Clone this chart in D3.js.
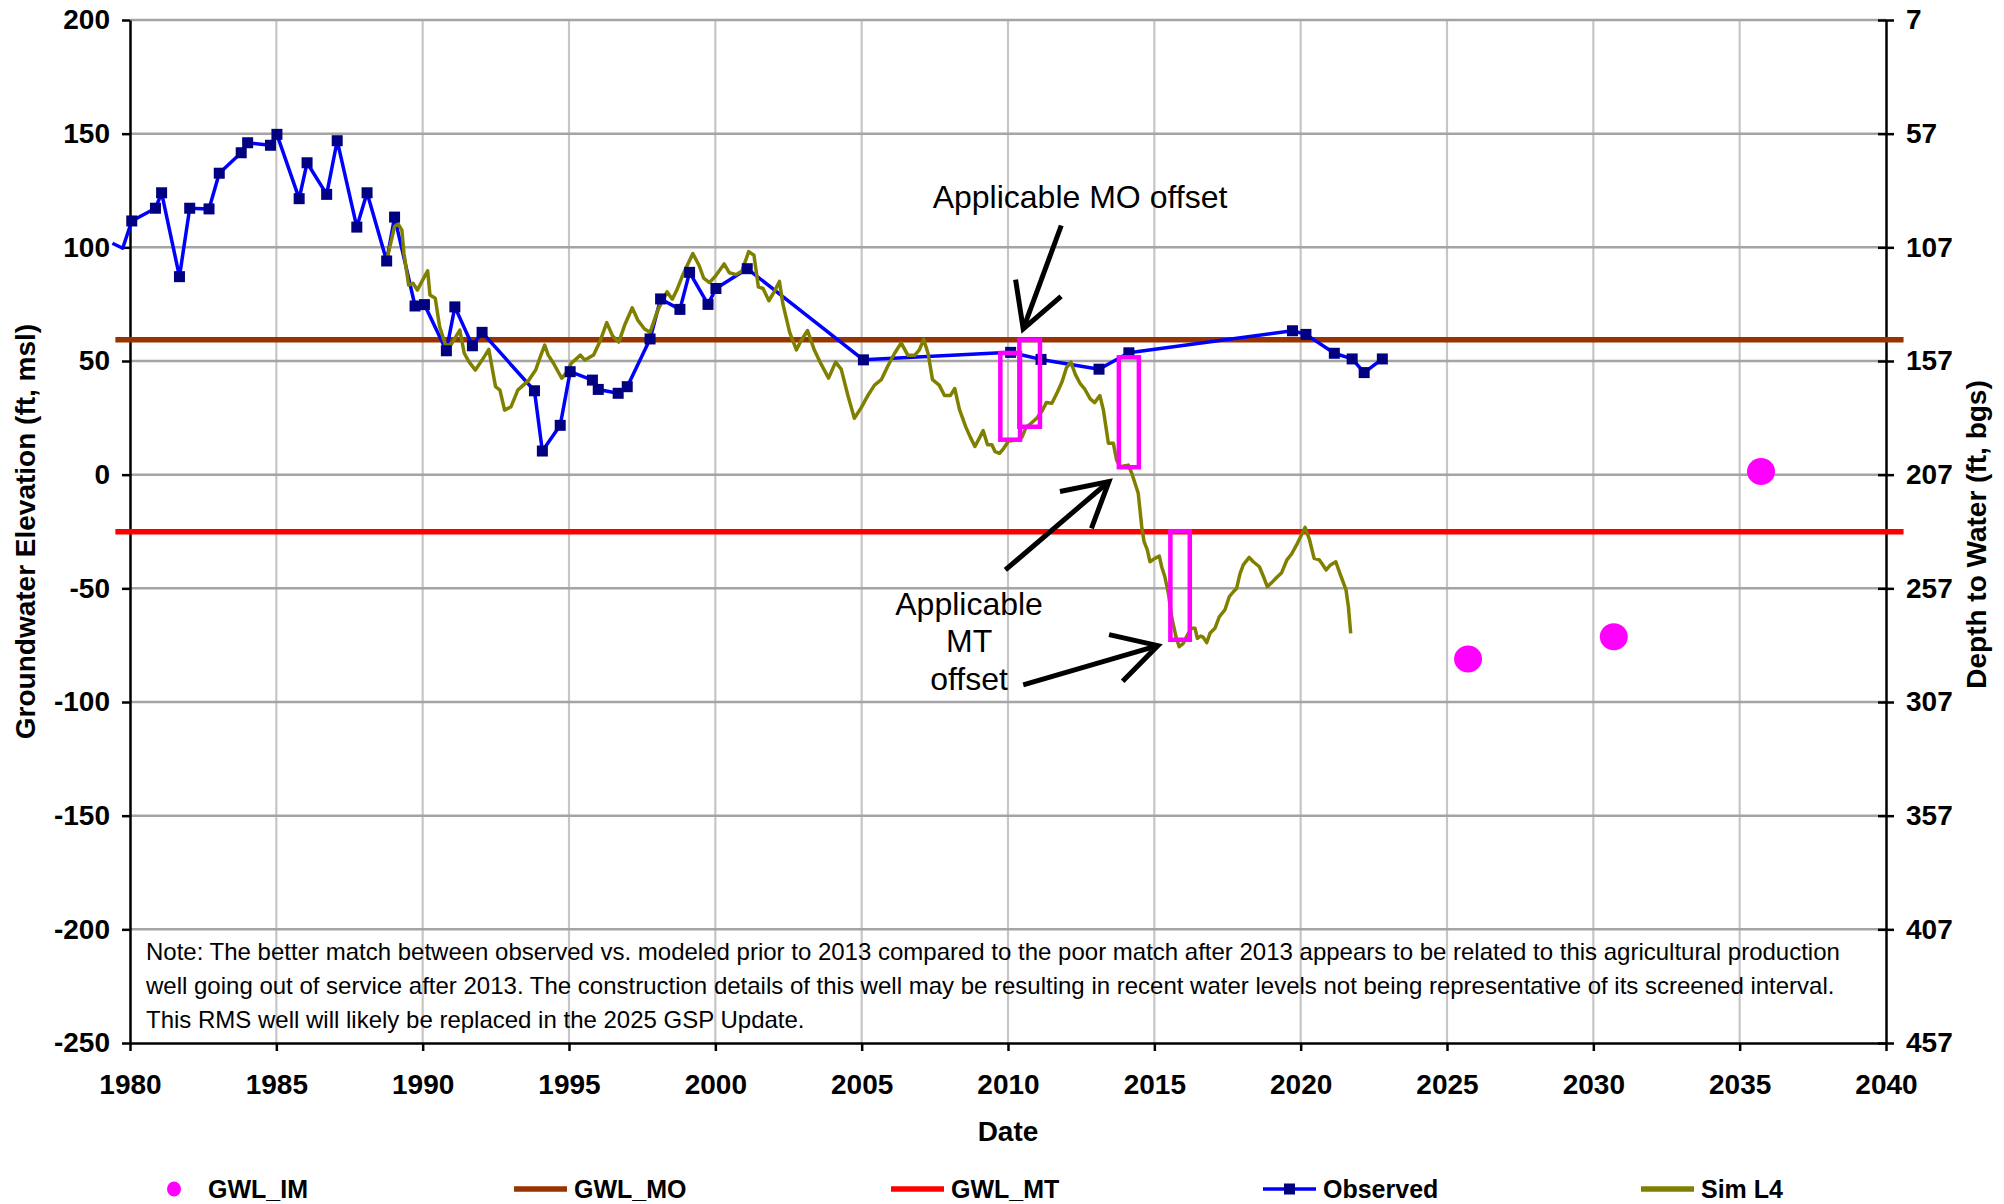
<!doctype html>
<html>
<head>
  <meta charset="utf-8">
  <title>Groundwater Elevation</title>
  <style>
    body {
      margin: 0;
      background: #fff;
    }
    svg text {
      font-family: Arial, "Liberation Sans", sans-serif;
    }
    .axis text {
      font-size: 28px;
      font-weight: bold;
      fill: #000;
    }
    .axis path, .axis line {
      stroke: #000;
      stroke-width: 2.5;
    }
  </style>
</head>
<body>
  <div id="vis"></div>

  <script src="https://d3js.org/d3.v7.min.js"></script>
  <script>

    // observed groundwater elevation (ft, msl)
    var obsYears = [1979.4, 1979.75, 1980.06, 1980.87, 1981.08, 1981.69, 1982.04, 1982.70, 1983.05, 1983.80,
      1984.02, 1984.80, 1985.02, 1985.78, 1986.05, 1986.72, 1987.08, 1987.75, 1988.10, 1988.77,
      1989.04, 1989.74, 1990.06, 1990.81, 1991.10, 1991.70, 1992.03, 1993.82, 1994.09, 1994.70,
      1995.04, 1995.80, 1996.00, 1996.68, 1996.99, 1997.77, 1998.13, 1998.79, 1999.12, 1999.75,
      2000.02, 2001.09, 2005.06, 2010.09, 2011.13, 2013.11, 2014.13, 2019.72, 2020.18, 2021.15,
      2021.76, 2022.17, 2022.79];
    var obsValues = [101.8, 99.6, 111.6, 117.2, 124.0, 87.1, 117.2, 116.9, 132.6, 141.6,
      146.0, 144.9, 149.7, 121.4, 137.2, 123.3, 146.9, 108.9, 124.0, 94.0,
      113.3, 74.2, 74.8, 54.5, 73.8, 56.7, 62.6, 36.9, 10.4, 21.7,
      45.3, 41.6, 37.5, 35.8, 38.7, 59.7, 77.3, 72.7, 89.0, 74.9,
      81.9, 90.6, 50.5, 53.8, 50.7, 46.4, 53.6, 63.3, 61.7, 53.4,
      50.9, 44.9, 50.9];

    // simulated (Sim L4)
    var simYears = [1988.80, 1989.04, 1989.16, 1989.29, 1989.36, 1989.52, 1989.67, 1989.82, 1989.97, 1990.17,
      1990.25, 1990.43, 1990.58, 1990.78, 1990.96, 1991.27, 1991.42, 1991.58, 1991.80, 1992.03,
      1992.26, 1992.49, 1992.64, 1992.80, 1993.02, 1993.25, 1993.63, 1993.86, 1994.02, 1994.17,
      1994.29, 1994.47, 1994.75, 1994.90, 1995.08, 1995.39, 1995.54, 1995.84, 1996.06, 1996.29,
      1996.49, 1996.70, 1996.90, 1997.16, 1997.35, 1997.58, 1997.77, 1998.04, 1998.35, 1998.53,
      1998.68, 1998.88, 1999.23, 1999.45, 1999.60, 1999.80, 2000.00, 2000.30, 2000.48, 2000.71,
      2000.91, 2001.14, 2001.32, 2001.47, 2001.63, 2001.83, 2002.01, 2002.19, 2002.31, 2002.54,
      2002.77, 2002.92, 2003.15, 2003.38, 2003.61, 2003.87, 2004.11, 2004.30, 2004.53, 2004.75,
      2004.98, 2005.21, 2005.44, 2005.67, 2005.90, 2006.12, 2006.35, 2006.58, 2006.81, 2006.97,
      2007.12, 2007.27, 2007.42, 2007.65, 2007.83, 2008.03, 2008.18, 2008.34, 2008.56, 2008.72,
      2008.87, 2009.03, 2009.15, 2009.30, 2009.45, 2009.56, 2009.71, 2009.86, 2010.02, 2010.25,
      2010.47, 2010.62, 2010.78, 2010.98, 2011.16, 2011.31, 2011.50, 2011.69, 2011.85, 2012.00,
      2012.15, 2012.30, 2012.46, 2012.61, 2012.81, 2012.96, 2013.14, 2013.26, 2013.43, 2013.60,
      2013.71, 2013.83, 2014.11, 2014.23, 2014.45, 2014.57, 2014.65, 2014.76, 2014.85, 2015.02,
      2015.17, 2015.25, 2015.36, 2015.48, 2015.59, 2015.74, 2015.85, 2015.99, 2016.13, 2016.27,
      2016.39, 2016.47, 2016.58, 2016.67, 2016.79, 2016.90, 2017.07, 2017.22, 2017.41, 2017.56,
      2017.70, 2017.81, 2017.93, 2018.04, 2018.24, 2018.38, 2018.59, 2018.73, 2018.86, 2019.01,
      2019.18, 2019.35, 2019.53, 2019.69, 2019.86, 2020.15, 2020.30, 2020.46, 2020.64, 2020.72,
      2020.87, 2021.02, 2021.20, 2021.34, 2021.55, 2021.63, 2021.71];
    var simValues = [95.9, 109.1, 110.3, 107.6, 97.4, 83.4, 84.2, 81.2, 84.9, 89.7,
      79.0, 77.6, 65.1, 57.0, 57.0, 63.6, 53.4, 49.7, 46.0, 50.4,
      55.1, 38.7, 37.2, 28.4, 29.9, 37.2, 41.6, 46.0, 51.9, 57.0,
      52.6, 49.0, 42.4, 44.6, 49.0, 52.6, 50.4, 52.6, 58.7, 66.9,
      61.0, 58.3, 65.7, 73.4, 68.0, 64.1, 62.6, 72.6, 80.4, 77.2,
      81.1, 87.6, 97.3, 91.9, 86.5, 84.5, 87.3, 92.7, 88.8, 88.0,
      89.6, 98.1, 96.5, 82.6, 81.9, 76.5, 80.4, 85.0, 75.0, 62.6,
      54.9, 58.7, 63.4, 54.9, 48.7, 42.5, 49.5, 46.4, 34.8, 24.8,
      29.4, 34.8, 39.4, 41.8, 47.9, 53.3, 58.0, 52.5, 52.5, 54.9,
      59.5, 53.3, 41.8, 39.4, 34.8, 34.8, 37.9, 28.7, 20.9, 16.3,
      12.4, 16.3, 19.4, 13.2, 13.2, 10.1, 9.4, 11.7, 14.8, 15.1,
      16.3, 20.9, 22.5, 24.8, 27.9, 31.7, 31.4, 36.4, 41.0, 47.1,
      49.5, 44.1, 40.2, 37.9, 33.3, 31.7, 34.8, 28.4, 13.8, 13.8,
      6.5, 3.5, 4.2, 0.6, -8.2, -22.9, -29.5, -33.1, -38.3, -36.8,
      -35.8, -40.5, -44.9, -52.2, -62.5, -71.3, -75.7, -74.2, -70.5, -67.6,
      -67.6, -72.0, -71.0, -71.5, -73.9, -69.8, -67.6, -62.5, -59.5, -53.7,
      -51.5, -50.0, -43.4, -39.7, -36.4, -38.3, -40.5, -44.9, -49.3, -47.5,
      -45.2, -43.1, -37.5, -34.9, -30.9, -23.2, -28.5, -36.8, -37.5, -39.0,
      -41.9, -39.7, -38.3, -43.4, -50.7, -58.0, -69.8];

    // interim milestones
    var imYears = [2025.72, 2030.70, 2035.73];
    var imValues = [-81.1, -71.3, 1.4];

    // measurable objective / minimum threshold
    var thresholdYears = [1979.5, 2040.6];
    var moValue = 59.4;
    var mtValue = -25.1;
    var surfaceElev = 207;

    // offset boxes: [year0, year1, top, bottom]
    var offsetBoxes = [
      [2009.67, 2010.48, 54.4, 14.5],
      [2010.32, 2011.16, 60.2, 20.2],
      [2013.72, 2014.54, 52.5, 2.4],
      [2015.48, 2016.28, -24.0, -73.5]
    ];

    // arrows: [tailYear, tailValue, tipYear, tipValue]
    var arrows = [
      [2011.82, 109.6, 2010.52, 64.1],
      [2009.91, -41.9, 2013.45, -3.0],
      [2010.52, -92.5, 2015.12, -75.2]
    ];

    var xTicks = d3.range(1980, 2041, 5);
    var yTicks = d3.range(-250, 201, 50);
    var depthTicks = d3.range(7, 458, 50);

    var noteLines = [
      "Note: The better match between observed vs. modeled prior to 2013 compared to the poor match after 2013 appears to be related to this agricultural production",
      "well going out of service after 2013. The construction details of this well may be resulting in recent water levels not being representative of its screened interval.",
      "This RMS well will likely be replaced in the 2025 GSP Update."
    ];

    var legendItems = ["GWL_IM", "GWL_MO", "GWL_MT", "Observed", "Sim L4"];

    var W = 2004, H = 1204;
    var pLeft = 130, pRight = 1886, pTop = 20, pBottom = 1043;

    var svg = d3.select("#vis").append("svg")
      .attr("width", W)
      .attr("height", H);

    var x = d3.scaleLinear().domain([1980, 2040]).range([pLeft, pRight]);
    var y = d3.scaleLinear().domain([-250, 200]).range([pBottom, pTop]);
    var yDepth = d3.scaleLinear().domain([surfaceElev + 250, surfaceElev - 200]).range([pBottom, pTop]);

    // gridlines
    svg.append("g").selectAll("line")
      .data(xTicks.slice(1, -1))
      .enter().append("line")
      .attr("x1", function(d){ return x(d); })
      .attr("x2", function(d){ return x(d); })
      .attr("y1", pTop)
      .attr("y2", pBottom)
      .attr("stroke", "#c6c6c6")
      .attr("stroke-width", 2.2);

    svg.append("g").selectAll("line")
      .data(yTicks.slice(1))
      .enter().append("line")
      .attr("x1", pLeft)
      .attr("x2", pRight)
      .attr("y1", function(d){ return y(d); })
      .attr("y2", function(d){ return y(d); })
      .attr("stroke", "#a4a4a4")
      .attr("stroke-width", 2.5);

    // axes (plain hyphen for negatives, like the original)
    svg.append("g")
      .attr("class", "axis")
      .attr("transform", "translate(" + pLeft + ",0)")
      .call(d3.axisLeft(y).tickValues(yTicks).tickFormat(function(d){ return String(d); })
        .tickSizeInner(8).tickSizeOuter(0).tickPadding(12));

    var rightAxis = svg.append("g")
      .attr("class", "axis")
      .attr("transform", "translate(" + pRight + ",0)")
      .call(d3.axisRight(yDepth).tickValues(depthTicks).tickFormat(function(d){ return String(d); })
        .tickSizeInner(8).tickSizeOuter(0).tickPadding(12));
    rightAxis.selectAll(".tick line").attr("x1", -8);

    svg.append("g")
      .attr("class", "axis")
      .attr("transform", "translate(0," + pBottom + ")")
      .call(d3.axisBottom(x).tickValues(xTicks).tickFormat(d3.format("d")).tickSizeInner(8).tickSizeOuter(0).tickPadding(23));

    // axis titles
    svg.append("text")
      .attr("transform", "translate(35," + ((pTop + pBottom) / 2) + ") rotate(-90)")
      .attr("text-anchor", "middle")
      .style("font-size", "28px")
      .style("font-weight", "bold")
      .text("Groundwater Elevation (ft, msl)");

    svg.append("text")
      .attr("transform", "translate(1986," + ((pTop + pBottom) / 2 + 3) + ") rotate(-90)")
      .attr("text-anchor", "middle")
      .style("font-size", "28px")
      .style("font-weight", "bold")
      .text("Depth to Water (ft, bgs)");

    svg.append("text")
      .attr("x", (pLeft + pRight) / 2)
      .attr("y", 1141)
      .attr("text-anchor", "middle")
      .style("font-size", "28px")
      .style("font-weight", "bold")
      .text("Date");

    // MO / MT lines
    var flat = d3.line()
      .x(function(d){ return x(d[0]); })
      .y(function(d){ return y(d[1]); });

    svg.append("path")
      .datum(thresholdYears.map(function(d){ return [d, moValue]; }))
      .attr("d", flat)
      .attr("stroke", "#993300")
      .attr("stroke-width", 5.5)
      .attr("fill", "none");

    svg.append("path")
      .datum(thresholdYears.map(function(d){ return [d, mtValue]; }))
      .attr("d", flat)
      .attr("stroke", "#ff0000")
      .attr("stroke-width", 5.5)
      .attr("fill", "none");

    // interim milestones
    svg.append("g").selectAll("ellipse")
      .data(imYears)
      .enter().append("ellipse")
      .attr("cx", function(d){ return x(d); })
      .attr("cy", function(d,i){ return y(imValues[i]); })
      .attr("rx", 14)
      .attr("ry", 13.5)
      .attr("fill", "#ff00ff");

    // observed
    var obs = obsYears.map(function(d,i){ return [d, obsValues[i]]; });

    svg.append("path")
      .datum(obs)
      .attr("d", flat)
      .attr("stroke", "#0000ff")
      .attr("stroke-width", 3.5)
      .attr("stroke-linejoin", "round")
      .attr("fill", "none");

    // simulated
    var sim = simYears.map(function(d,i){ return [d, simValues[i]]; });

    svg.append("path")
      .datum(sim)
      .attr("d", flat)
      .attr("stroke", "#808000")
      .attr("stroke-width", 3.5)
      .attr("stroke-linejoin", "round")
      .attr("fill", "none");

    svg.append("g").selectAll("rect")
      .data(obs.filter(function(d){ return d[0] >= 1980; }))
      .enter().append("rect")
      .attr("x", function(d){ return x(d[0]) - 5.5; })
      .attr("y", function(d){ return y(d[1]) - 5.5; })
      .attr("width", 11)
      .attr("height", 11)
      .attr("fill", "#000080");

    // offset boxes
    svg.append("g").selectAll("rect")
      .data(offsetBoxes)
      .enter().append("rect")
      .attr("x", function(d){ return x(d[0]) + 2; })
      .attr("y", function(d){ return y(d[2]) + 2; })
      .attr("width", function(d){ return x(d[1]) - x(d[0]) - 4; })
      .attr("height", function(d){ return y(d[3]) - y(d[2]) - 4; })
      .attr("fill", "none")
      .attr("stroke", "#ff00ff")
      .attr("stroke-width", 4.5);

    // arrows
    var arrowG = svg.append("g")
      .attr("stroke", "#000")
      .attr("stroke-width", 5)
      .attr("fill", "none");

    arrows.forEach(function(a){
      var tx = x(a[0]), ty = y(a[1]), px = x(a[2]), py = y(a[3]);
      var ang = Math.atan2(ty - py, tx - px);
      var len = 50, spread = 29 * Math.PI / 180;
      arrowG.append("line")
        .attr("x1", tx).attr("y1", ty)
        .attr("x2", px).attr("y2", py);
      arrowG.append("polyline")
        .attr("points", [
          [px + len * Math.cos(ang - spread), py + len * Math.sin(ang - spread)],
          [px, py],
          [px + len * Math.cos(ang + spread), py + len * Math.sin(ang + spread)]
        ].join(" "));
    });

    // annotation text
    svg.append("text")
      .attr("x", x(2012.46))
      .attr("y", y(117.3))
      .attr("text-anchor", "middle")
      .style("font-size", "32px")
      .text("Applicable MO offset");

    var mtLabel = ["Applicable", "MT", "offset"];
    svg.append("g").selectAll("text")
      .data(mtLabel)
      .enter().append("text")
      .attr("x", x(2008.67))
      .attr("y", function(d,i){ return y(-61.6) + i * 37.7; })
      .attr("text-anchor", "middle")
      .style("font-size", "32px")
      .text(function(d){ return d; });

    // note
    svg.append("g").selectAll("text")
      .data(noteLines)
      .enter().append("text")
      .attr("x", 146)
      .attr("y", function(d,i){ return 960 + i * 34; })
      .style("font-size", "24px")
      .text(function(d){ return d; });

    // legend
    var legendX = [174, 514, 891, 1263, 1641];
    var legendY = 1189;
    var legend = svg.append("g").selectAll("g")
      .data(legendItems)
      .enter().append("g")
      .attr("transform", function(d,i){ return "translate(" + legendX[i] + "," + legendY + ")"; });

    legend.each(function(d,i){
      var g = d3.select(this);
      var tx;
      if (i === 0) {
        g.append("ellipse").attr("rx", 7).attr("ry", 7.5).attr("fill", "#ff00ff");
        tx = 34;
      } else {
        var colors = [null, "#993300", "#ff0000", "#0000ff", "#808000"];
        g.append("line")
          .attr("x1", 0).attr("x2", 53)
          .attr("stroke", colors[i])
          .attr("stroke-width", i === 3 ? 3.5 : 5.5);
        if (i === 3) {
          g.append("rect").attr("x", 21).attr("y", -5.5).attr("width", 11).attr("height", 11).attr("fill", "#000080");
        }
        tx = 60;
      }
      g.append("text")
        .attr("x", tx)
        .attr("y", 9)
        .style("font-size", "25px")
        .style("font-weight", "bold")
        .text(d);
    });

  </script>
</body>
</html>
